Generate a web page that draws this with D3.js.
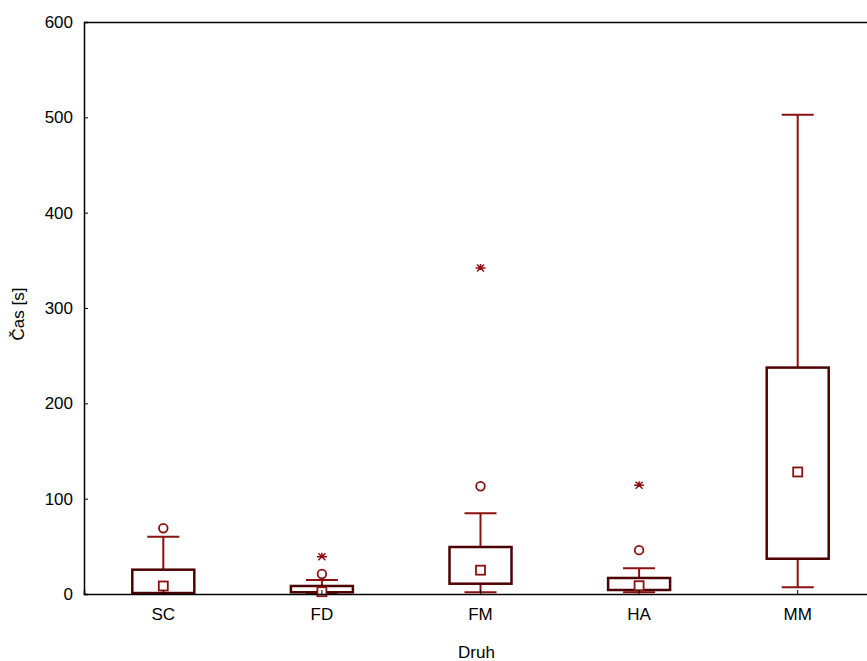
<!DOCTYPE html>
<html lang="cs">
<head>
<meta charset="UTF-8">
<title>Čas podle druhu</title>
<script src="https://d3js.org/d3.v7.min.js"></script>
<style>
    body { margin: 0; background: #fff; font-family: "Liberation Sans", Arial, sans-serif; }
    svg text { font-family: "Liberation Sans", Arial, sans-serif; font-size: 17px; fill: #000; }
    .axis path, .axis line { stroke: #000; }
</style>
</head>
<body>
<div id="chart"></div>
<script>
    // data (seconds)
    const categories = ["SC", "FD", "FM", "HA", "MM"];
    const whiskerLow  = [0,    0.5,  1.8,  1.8,  7];
    const boxLow      = [1,    1.8,  10.8, 4.2,  37];
    const medians     = [8.4,  2.4,  25,   8.7,  128];
    const boxHigh     = [25.5, 8.4,  49.3, 16.8, 237.5];
    const whiskerHigh = [60,   14.7, 84.7, 27,   502.6];
    const outliers    = [[69], [21], [113], [46], []];
    const extremes    = [[],   [39], [342], [114], []];
    const yTicks = [0, 100, 200, 300, 400, 500, 600];

    const W = 867, H = 661;
    const margin = { top: 22, right: -10, bottom: 67, left: 84 };
    const width = W - margin.left - margin.right,
          height = H - margin.top - margin.bottom;

    const boxColor = "#4d0000", lineColor = "#8b1010";

    const svg = d3.select("#chart").append("svg")
        .attr("width", W).attr("height", H);
    const g = svg.append("g")
        .attr("transform", `translate(${margin.left},${margin.top})`);

    const x = d3.scaleBand().domain(categories).range([0, width]);
    const y = d3.scaleLinear().domain([0, 600]).range([height, 0]);

    // frame: top line
    g.append("line").attr("x1", 0).attr("x2", width).attr("y1", 0.5).attr("y2", 0.5)
        .attr("stroke", "#000").attr("stroke-width", 1.5);

    const data = categories.map((c, i) => ({
        c, wl: whiskerLow[i], bl: boxLow[i], med: medians[i], bh: boxHigh[i],
        wh: whiskerHigh[i], out: outliers[i], ext: extremes[i]
    }));

    const bw = 62, cap = 16;
    const grp = g.selectAll(".box").data(data).enter().append("g")
        .attr("class", "box")
        .attr("transform", d => `translate(${x(d.c) + x.bandwidth() / 2},0)`);

    // whiskers
    grp.append("line").attr("x1", 0).attr("x2", 0)
        .attr("y1", d => y(d.bh)).attr("y2", d => y(d.wh))
        .attr("stroke", lineColor).attr("stroke-width", 2);
    grp.append("line").attr("x1", 0).attr("x2", 0)
        .attr("y1", d => y(d.bl)).attr("y2", d => y(d.wl))
        .attr("stroke", lineColor).attr("stroke-width", 2);
    grp.append("line").attr("x1", -cap).attr("x2", cap)
        .attr("y1", d => y(d.wh)).attr("y2", d => y(d.wh))
        .attr("stroke", lineColor).attr("stroke-width", 2);
    grp.append("line").attr("x1", -cap).attr("x2", cap)
        .attr("y1", d => y(d.wl)).attr("y2", d => y(d.wl))
        .attr("stroke", lineColor).attr("stroke-width", 2);

    // boxes
    grp.append("rect")
        .attr("x", -bw / 2).attr("width", bw)
        .attr("y", d => y(d.bh)).attr("height", d => y(d.bl) - y(d.bh))
        .attr("fill", "#fff").attr("stroke", boxColor).attr("stroke-width", 2.5);

    // median squares
    grp.append("rect")
        .attr("x", -4.5).attr("width", 9)
        .attr("y", d => y(d.med) - 4.5).attr("height", 9)
        .attr("fill", "#fff").attr("stroke", lineColor).attr("stroke-width", 1.8);

    // outliers
    grp.selectAll(".out").data(d => d.out).enter().append("circle")
        .attr("class", "out").attr("cx", 0).attr("cy", v => y(v)).attr("r", 4.3)
        .attr("fill", "#fff").attr("stroke", lineColor).attr("stroke-width", 1.8);

    // extremes (asterisk)
    const ast = grp.selectAll(".ext").data(d => d.ext).enter().append("g")
        .attr("class", "ext").attr("transform", v => `translate(0,${y(v)})`);
    ast.append("path")
        .attr("d", "M-5,0H5M-3.5,-3.5L3.5,3.5M-3.5,3.5L3.5,-3.5M0,-4V0")
        .attr("stroke", lineColor).attr("stroke-width", 1.5).attr("fill", "none");

    // axes
    g.append("g").attr("class", "axis")
        .attr("transform", `translate(0,${height})`)
        .call(d3.axisBottom(x).tickSize(-4).tickPadding(14))
        .call(a => a.select(".domain").attr("stroke-width", 1.5));

    g.append("g").attr("class", "axis")
        .call(d3.axisLeft(y).tickValues(yTicks).tickSize(-4).tickPadding(11))
        .call(a => a.select(".domain").attr("stroke-width", 1.5));

    // axis titles
    svg.append("text").attr("x", margin.left + (867 - margin.left) / 2 + 1).attr("y", 658)
        .attr("text-anchor", "middle").text("Druh");
    svg.append("text")
        .attr("transform", `translate(24,${margin.top + height / 2 + 6}) rotate(-90)`)
        .attr("text-anchor", "middle").text("Čas [s]");
</script>
</body>
</html>
